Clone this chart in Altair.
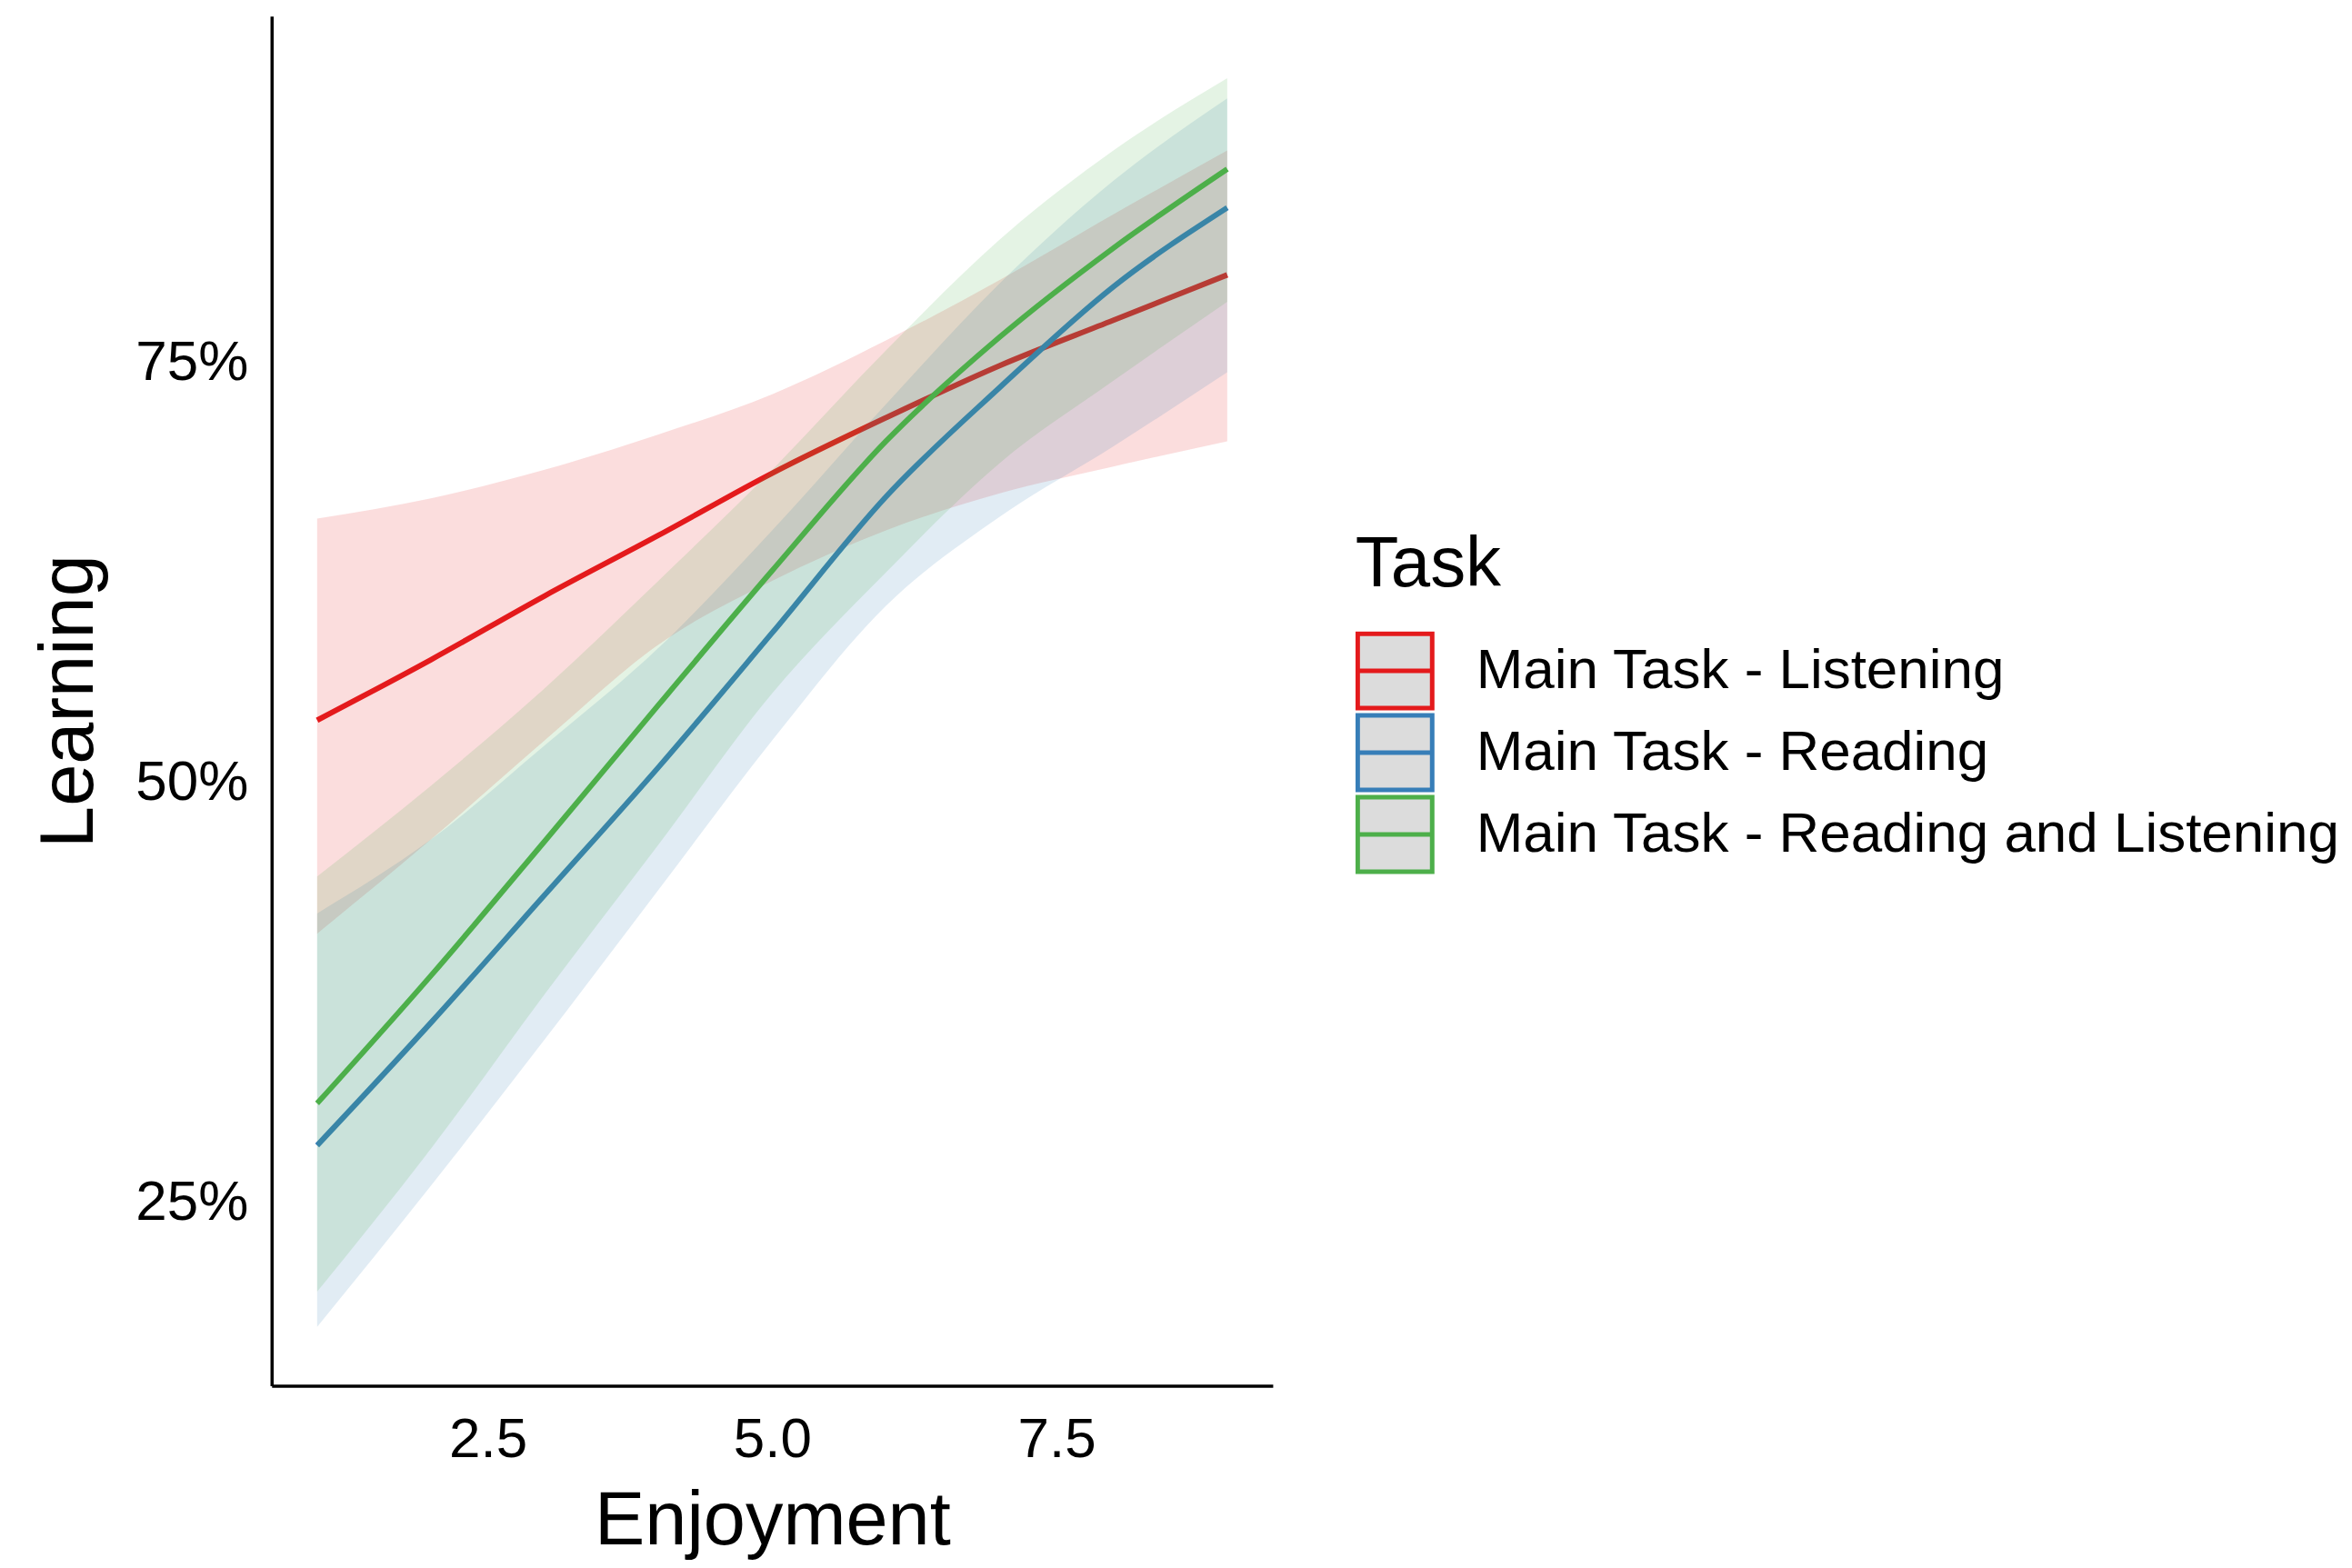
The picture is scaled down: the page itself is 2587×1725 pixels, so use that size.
import altair as alt
import pandas as pd

# ---- data ----
enjoyment = [1, 2, 3, 4, 5, 6, 7, 8, 9]
tasks = ["Main Task - Listening", "Main Task - Reading", "Main Task - Reading and Listening"]
task_colors = ["#E41A1C", "#377EB8", "#4DAF4A"]

listening_fit = [53.7, 57.3, 61.1, 64.7, 68.4, 71.7, 74.8, 77.5, 80.2]
listening_low = [41.0, 46.6, 52.5, 58.2, 62.0, 65.0, 67.2, 68.8, 70.3]
listening_high = [65.7, 66.9, 68.6, 70.7, 73.1, 76.3, 79.9, 83.8, 87.6]

reading_fit = [28.4, 35.7, 43.3, 50.9, 58.9, 67.0, 73.5, 79.5, 84.2]
reading_low = [17.6, 26.0, 34.7, 43.6, 52.5, 60.5, 65.8, 70.0, 74.4]
reading_high = [42.2, 46.6, 52.2, 58.0, 65.0, 72.5, 79.7, 85.8, 90.7]

rl_fit = [30.9, 38.5, 46.5, 54.6, 62.6, 70.3, 76.5, 81.8, 86.5]
rl_low = [19.7, 28.2, 37.4, 46.3, 55.3, 62.5, 69.0, 73.9, 78.6]
rl_high = [44.4, 49.8, 55.6, 62.0, 68.6, 75.7, 82.3, 87.6, 91.9]

x_ticks = [2.5, 5.0, 7.5]
y_ticks = [25, 50, 75]

series = {
    tasks[0]: (listening_fit, listening_low, listening_high),
    tasks[1]: (reading_fit, reading_low, reading_high),
    tasks[2]: (rl_fit, rl_low, rl_high),
}
rows = []
for task, (fit, lo, hi) in series.items():
    for x, f, l, h in zip(enjoyment, fit, lo, hi):
        rows.append({"Enjoyment": x, "Task": task, "fit": f, "lo": l, "hi": h})
df = pd.DataFrame(rows)

FONT = "Liberation Sans"

xscale = alt.Scale(domain=[0.6, 9.4], nice=False, zero=False)
yscale = alt.Scale(domain=[14.1, 95.6], nice=False, zero=False)
# same colour mapping; listed in another order so its (hidden) legend is not merged
fill_scale = alt.Scale(domain=tasks[::-1], range=task_colors[::-1])
stroke_scale = alt.Scale(domain=tasks, range=task_colors)

xaxis = alt.Axis(title="Enjoyment", values=x_ticks, format=".1f",
                 labelPadding=29, titlePadding=18)
yaxis = alt.Axis(title="Learning", values=y_ticks, labelExpr="datum.value + '%'",
                 labelPadding=26, titlePadding=30)

legend = alt.Legend(
    title="Task",
    orient="none",
    legendX=1193,
    legendY=566,
    symbolType="M-1,-1H1V1H-1Z M-1,0H1",
    symbolSize=6724,
    symbolStrokeWidth=5,
    symbolFillColor="#dcdcdc",
    symbolOpacity=1,
    labelFont=FONT,
    labelFontSize=62,
    labelColor="black",
    labelLimit=2000,
    labelOffset=46,
    titleFont=FONT,
    titleFontSize=78,
    titleFontWeight="normal",
    titleColor="black",
    titlePadding=33,
    clipHeight=88,
    rowPadding=2,
    padding=0,
)

layers = []
for task in tasks:
    base = alt.Chart(df).transform_filter(alt.datum.Task == task)
    band = base.mark_area(fillOpacity=0.15, interpolate="monotone").encode(
        x=alt.X("Enjoyment:Q", scale=xscale, axis=xaxis),
        y=alt.Y("lo:Q", scale=yscale, axis=yaxis),
        y2="hi:Q",
        fill=alt.Fill("Task:N", scale=fill_scale, legend=None),
    )
    line = base.mark_line(strokeWidth=6, interpolate="monotone").encode(
        x=alt.X("Enjoyment:Q", scale=xscale, axis=xaxis),
        y=alt.Y("fit:Q", scale=yscale, axis=yaxis),
        stroke=alt.Stroke("Task:N", scale=stroke_scale, legend=legend),
    )
    layers += [band, line]

chart = alt.layer(*layers).properties(
    width=1102,
    height=1508,
    autosize=alt.AutoSizeParams(type="none"),
    padding={"left": 291, "top": 9, "right": 1180, "bottom": 192},
    background="white",
).configure_view(
    strokeWidth=0
).configure_axis(
    domainColor="black",
    domainWidth=3.5,
    grid=False,
    ticks=False,
    tickSize=0,
    labelFont=FONT,
    labelFontSize=62,
    labelColor="black",
    titleFont=FONT,
    titleFontSize=83,
    titleFontWeight="normal",
    titleColor="black",
)

chart.save("out.html", embed_options={"renderer": "svg", "actions": False})
